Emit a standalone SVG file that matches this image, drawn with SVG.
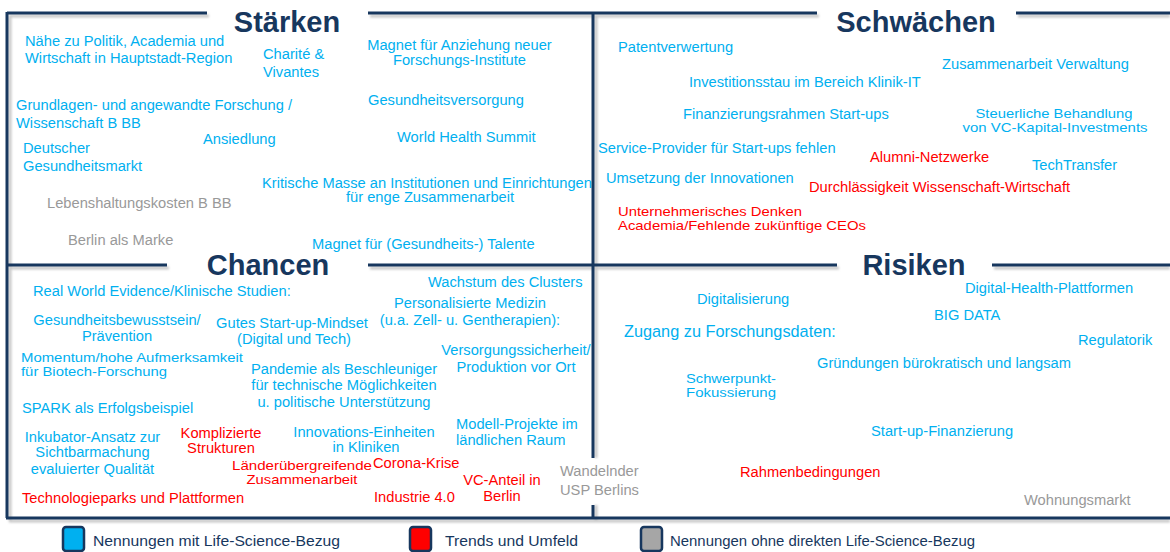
<svg xmlns="http://www.w3.org/2000/svg" width="1170" height="552" viewBox="0 0 1170 552">
<style>
.t{font-family:"Liberation Sans",Arial,sans-serif;font-size:14.7px}
.s{font-size:13.4px}
.b{fill:#00B0F0}
.r{fill:#FF0000}
.g{fill:#999999}
.m{text-anchor:middle}
.h{font-family:"Liberation Sans",Arial,sans-serif;font-size:29px;font-weight:bold;fill:#17375E;text-anchor:middle}
.ln{fill:none;stroke:#17375E;stroke-width:3}
.sh{fill:none;stroke:#b0b0b0;stroke-width:3;opacity:0.7}
.lg{font-family:"Liberation Sans Narrow","Liberation Sans",Arial,sans-serif;font-size:15px;fill:#17375E}
.sw{stroke:#17375E;stroke-width:2.5}
</style>
<defs>
<filter id="blur" x="-5%" y="-50%" width="110%" height="200%"><feGaussianBlur stdDeviation="1.2"/></filter>
</defs>
<rect width="1170" height="552" fill="#ffffff"/>
<g id="frame-shadow" filter="url(#blur)">
<path class="sh" d="M9,16 H209 M370,16 H819 M1018,16 H1170 M10,16 V521 M9,521 H1170 M596,16 V458 M596,505 V521 M9,268 H169 M370,268 H839 M994,268 H1170"/>
</g>
<g id="connectors">
<path class="ln" d="M7,13 H207 M368,13 H817 M1016,13 H1170 M7,12 V518 M6,518 H1170 M593,13 V458 M593,505 V518 M7,265 H167 M368,265 H837 M992,265 H1170"/>
</g>
<g id="titles">
<text class="h" x="287" y="32">Stärken</text>
<text class="h" x="916" y="32">Schwächen</text>
<text class="h" x="268" y="275">Chancen</text>
<text class="h" x="914" y="275">Risiken</text>
</g>
<g id="staerken" class="t">
<text class="b" x="25" y="46">Nähe zu Politik, Academia und</text>
<text class="b" x="25" y="63">Wirtschaft in Hauptstadt-Region</text>
<text class="b" x="263" y="59">Charité &amp;</text>
<text class="b" x="263" y="77">Vivantes</text>
<text class="b m" x="459.5" y="50">Magnet für Anziehung neuer</text>
<text class="b m" x="459.5" y="65">Forschungs-Institute</text>
<text class="b" x="368" y="105">Gesundheitsversorgung</text>
<text class="b" x="16" y="110">Grundlagen- und angewandte Forschung /</text>
<text class="b" x="16" y="128">Wissenschaft B BB</text>
<text class="b" x="397" y="142">World Health  Summit</text>
<text class="b" x="203" y="144">Ansiedlung</text>
<text class="b" x="23" y="153">Deutscher</text>
<text class="b" x="23" y="171">Gesundheitsmarkt</text>
<text class="b m" x="427" y="188">Kritische Masse an  Institutionen und Einrichtungen</text>
<text class="b m" x="430" y="202">für enge Zusammenarbeit</text>
<text class="g" x="47" y="208">Lebenshaltungskosten B BB</text>
<text class="g" x="68" y="245">Berlin als Marke</text>
<text class="b" x="312" y="249">Magnet für (Gesundheits-) Talente</text>
</g>
<g id="schwaechen" class="t">
<text class="b" x="618" y="52">Patentverwertung</text>
<text class="b" x="942" y="69">Zusammenarbeit Verwaltung</text>
<text class="b" x="689" y="87">Investitionsstau im Bereich Klinik-IT</text>
<text class="b" x="683" y="119">Finanzierungsrahmen  Start-ups</text>
<text class="b m s" x="1054" y="118" textLength="157" lengthAdjust="spacingAndGlyphs">Steuerliche Behandlung</text>
<text class="b m s" x="1055" y="132" textLength="185" lengthAdjust="spacingAndGlyphs">von VC-Kapital-Investments</text>
<text class="b" x="598" y="153">Service-Provider für Start-ups fehlen</text>
<text class="r" x="870" y="162">Alumni-Netzwerke</text>
<text class="b" x="1032" y="170">TechTransfer</text>
<text class="b" x="606" y="183">Umsetzung der Innovationen</text>
<text class="r" x="809" y="192">Durchlässigkeit Wissenschaft-Wirtschaft</text>
<text class="r s" x="618" y="216" textLength="184" lengthAdjust="spacingAndGlyphs">Unternehmerisches Denken</text>
<text class="r s" x="618" y="230" textLength="248" lengthAdjust="spacingAndGlyphs">Academia/Fehlende zukünftige CEOs</text>
</g>
<g id="chancen" class="t">
<text class="b" x="428" y="287">Wachstum des Clusters</text>
<text class="b" x="33" y="296">Real World Evidence/Klinische Studien:</text>
<text class="b m" x="470" y="308">Personalisierte Medizin</text>
<text class="b m" x="470" y="325">(u.a.  Zell- u. Gentherapien):</text>
<text class="b m" x="117" y="325">Gesundheitsbewusstsein/</text>
<text class="b m" x="117" y="341">Prävention</text>
<text class="b m" x="292" y="328">Gutes Start-up-Mindset</text>
<text class="b m" x="294" y="344">(Digital und Tech)</text>
<text class="b m" x="516" y="355">Versorgungssicherheit/</text>
<text class="b m" x="516" y="372">Produktion vor Ort</text>
<text class="b s" x="21" y="362" textLength="222" lengthAdjust="spacingAndGlyphs">Momentum/hohe Aufmerksamkeit</text>
<text class="b s" x="21" y="376" textLength="146" lengthAdjust="spacingAndGlyphs">für Biotech-Forschung</text>
<text class="b m" x="344" y="374">Pandemie als Beschleuniger</text>
<text class="b m" x="344" y="390">für technische Möglichkeiten</text>
<text class="b m" x="344" y="407">u. politische Unterstützung</text>
<text class="b" x="22" y="413">SPARK als Erfolgsbeispiel</text>
<text class="b" x="456" y="429">Modell-Projekte im</text>
<text class="b" x="456" y="445">ländlichen Raum</text>
<text class="b m" x="364" y="437">Innovations-Einheiten</text>
<text class="b m" x="366" y="452">in Kliniken</text>
<text class="r m" x="221" y="438">Komplizierte</text>
<text class="r m" x="221" y="453">Strukturen</text>
<text class="b m" x="92.5" y="442">Inkubator-Ansatz zur</text>
<text class="b m" x="92.5" y="457">Sichtbarmachung</text>
<text class="b m" x="92.5" y="474">evaluierter Qualität</text>
<text class="r" x="373" y="468">Corona-Krise</text>
<text class="r m s" x="302" y="470" textLength="140" lengthAdjust="spacingAndGlyphs">Länderübergreifende</text>
<text class="r m s" x="302" y="484" textLength="111" lengthAdjust="spacingAndGlyphs">Zusammenarbeit</text>
<text class="r m" x="502" y="485">VC-Anteil in</text>
<text class="r m" x="502" y="501">Berlin</text>
<text class="r" x="374" y="502">Industrie 4.0</text>
<text class="r" x="22" y="503">Technologieparks und  Plattformen</text>
<text class="g" x="560" y="476">Wandelnder</text>
<text class="g" x="560" y="495">USP Berlins</text>
</g>
<g id="risiken" class="t">
<text class="b" x="965" y="293">Digital-Health-Plattformen</text>
<text class="b" x="697" y="304">Digitalisierung</text>
<text class="b" x="934" y="320">BIG DATA</text>
<text class="b" x="624" y="337" style="font-size:16.3px">Zugang zu Forschungsdaten:</text>
<text class="b" x="1078" y="345">Regulatorik</text>
<text class="b" x="817" y="368">Gründungen bürokratisch und langsam</text>
<text class="b s" x="686" y="383" textLength="90" lengthAdjust="spacingAndGlyphs">Schwerpunkt-</text>
<text class="b s" x="686" y="397" textLength="90" lengthAdjust="spacingAndGlyphs">Fokussierung</text>
<text class="b" x="871" y="436">Start-up-Finanzierung</text>
<text class="r" x="740" y="477">Rahmenbedingungen</text>
<text class="g" x="1024" y="505">Wohnungsmarkt</text>
</g>
<g id="legend">
<rect class="sw" x="63" y="527" width="21" height="24" rx="3" fill="#00B0F0"/>
<text class="lg" x="93" y="546" textLength="247" lengthAdjust="spacingAndGlyphs">Nennungen  mit Life-Science-Bezug</text>
<rect class="sw" x="410" y="527" width="21" height="24" rx="3" fill="#FF0000"/>
<text class="lg" x="445" y="546" textLength="133" lengthAdjust="spacingAndGlyphs">Trends  und  Umfeld</text>
<rect class="sw" x="641" y="527" width="21" height="24" rx="3" fill="#A6A6A6"/>
<text class="lg" x="670" y="546" textLength="305" lengthAdjust="spacingAndGlyphs">Nennungen  ohne direkten  Life-Science-Bezug</text>
</g>
</svg>
